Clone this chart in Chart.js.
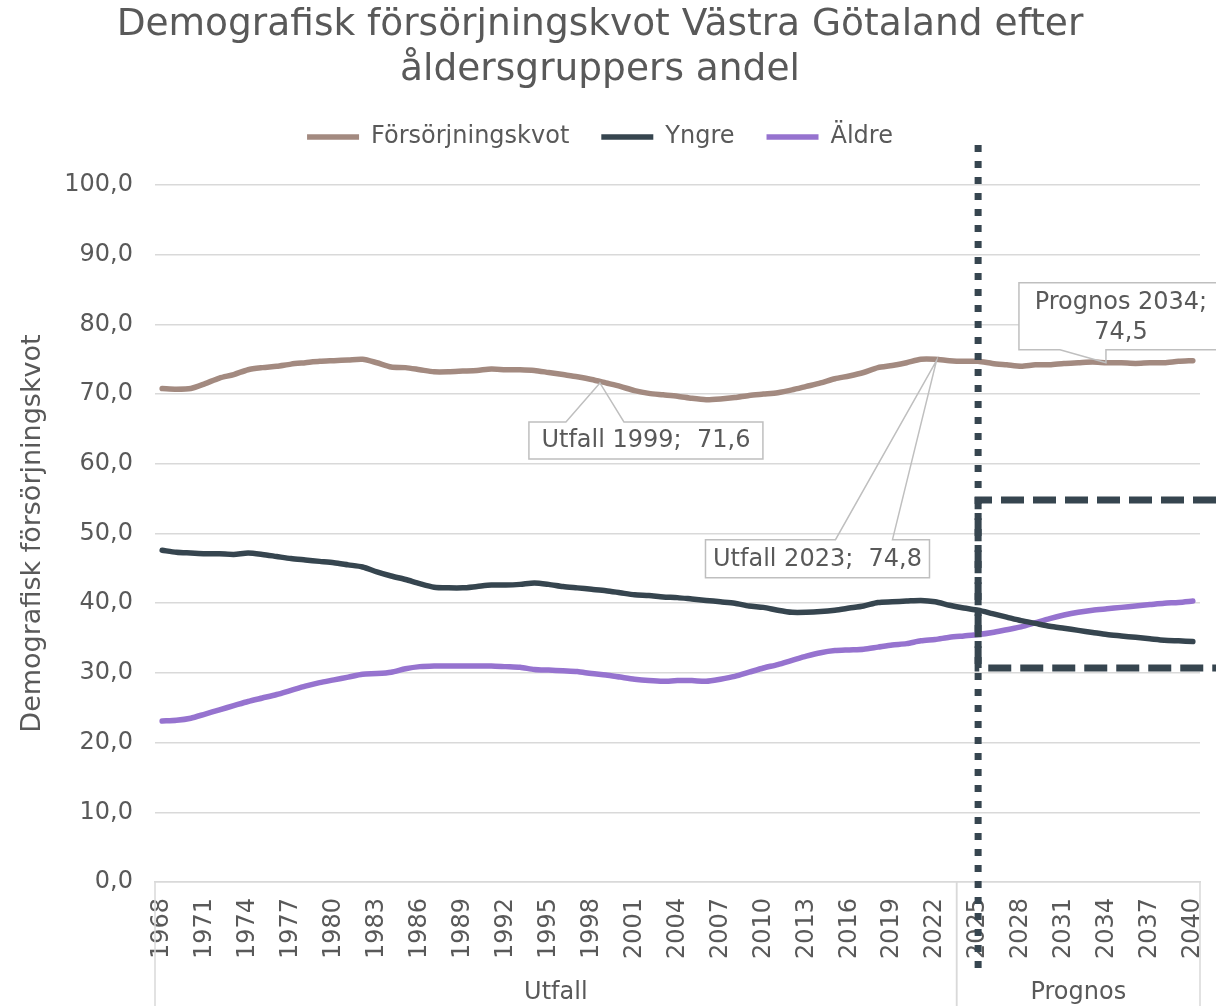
<!DOCTYPE html>
<html>
<head>
<meta charset="utf-8">
<script src="https://cdn.jsdelivr.net/npm/chart.js@4.4.1/dist/chart.umd.min.js"></script>
<style>
  html, body { margin: 0; padding: 0; background: #fff; }
  #wrap { width: 1216px; height: 1006px; }
</style>
</head>
<body>
<div id="wrap"><canvas id="chart"></canvas></div>
<script>
const years = [
  "1968","1969","1970","1971","1972","1973","1974","1975","1976","1977",
  "1978","1979","1980","1981","1982","1983","1984","1985","1986","1987",
  "1988","1989","1990","1991","1992","1993","1994","1995","1996","1997",
  "1998","1999","2000","2001","2002","2003","2004","2005","2006","2007",
  "2008","2009","2010","2011","2012","2013","2014","2015","2016","2017",
  "2018","2019","2020","2021","2022","2023","2024","2025","2026","2027",
  "2028","2029","2030","2031","2032","2033","2034","2035","2036","2037",
  "2038","2039","2040"
];

const forsorjningskvot = [
  70.8, 70.7, 70.8, 71.5, 72.3, 72.8, 73.5, 73.8, 74.0, 74.3,
  74.5, 74.7, 74.8, 74.9, 75.0, 74.5, 73.9, 73.8, 73.5, 73.2,
  73.2, 73.3, 73.4, 73.6, 73.5, 73.5, 73.4, 73.1, 72.8, 72.5,
  72.1, 71.6, 71.1, 70.5, 70.1, 69.9, 69.7, 69.4, 69.2, 69.3,
  69.5, 69.8, 70.0, 70.2, 70.6, 71.1, 71.6, 72.2, 72.6, 73.1,
  73.8, 74.1, 74.5, 75.0, 75.0, 74.8, 74.7, 74.7, 74.4, 74.2,
  74.0, 74.2, 74.2, 74.4, 74.5, 74.6, 74.5, 74.5, 74.4, 74.5,
  74.5, 74.7, 74.8
];

const yngre = [
  47.6, 47.3, 47.2, 47.1, 47.1, 47.0, 47.2, 47.0, 46.7, 46.4,
  46.2, 46.0, 45.8, 45.5, 45.2, 44.5, 43.9, 43.4, 42.8, 42.3,
  42.2, 42.2, 42.4, 42.6, 42.6, 42.7, 42.9, 42.7, 42.4, 42.2,
  42.0, 41.8, 41.5, 41.2, 41.1, 40.9, 40.8, 40.6, 40.4, 40.2,
  40.0, 39.6, 39.4, 39.0, 38.7, 38.7, 38.8, 39.0, 39.3, 39.6,
  40.1, 40.2, 40.3, 40.4, 40.2, 39.7, 39.3, 39.0, 38.5, 38.0,
  37.5, 37.1, 36.7, 36.4, 36.1, 35.8, 35.5, 35.3, 35.1, 34.9,
  34.7, 34.6, 34.5
];

const aldre = [
  23.1, 23.2, 23.5, 24.1, 24.7, 25.3, 25.9, 26.4, 26.9, 27.5,
  28.1, 28.6, 29.0, 29.4, 29.8, 29.9, 30.1, 30.6, 30.9, 31.0,
  31.0, 31.0, 31.0, 31.0, 30.9, 30.8, 30.5, 30.4, 30.3, 30.2,
  29.9, 29.7, 29.4, 29.1, 28.9, 28.8, 28.9, 28.9, 28.8, 29.1,
  29.5, 30.1, 30.7, 31.2, 31.8, 32.4, 32.9, 33.2, 33.3, 33.4,
  33.7, 34.0, 34.2, 34.6, 34.8, 35.1, 35.3, 35.5, 35.8, 36.2,
  36.6, 37.2, 37.8, 38.3, 38.7, 39.0, 39.2, 39.4, 39.6, 39.8,
  40.0, 40.1, 40.3
];

const yTicks = [0, 10, 20, 30, 40, 50, 60, 70, 80, 90, 100];

// grupper på x-axeln
const groups = [
  { name: "Utfall", from: "1968", to: "2023" },
  { name: "Prognos", from: "2024", to: "2040" }
];

// dataetiketter på försörjningskvoten
const labelYears = ["1999", "2023", "2034"];
const labelTexts = [["Utfall 1999;  71,6"], ["Utfall 2023;  74,8"], ["Prognos 2034;", "74,5"]];

// markeringar i prognosdelen
const markerYear = "2025";
const markerBand = [54.8, 30.7];

const FONT = '"DejaVu Sans", Verdana, sans-serif';
const TEXT = "#595959";
const DARK = "#36454f";

Chart.defaults.font.family = FONT;
Chart.defaults.color = TEXT;

const fmt = (v) => v.toFixed(1).replace(".", ",");

// extra luft under legenden
const legendGap = {
  id: "legendGap",
  beforeInit(chart) {
    const fit = chart.legend.fit;
    chart.legend.fit = function () {
      fit.call(this);
      this.height += 26;
    };
  }
};

function callout(ctx, box, tip, side, b1, b2) {
  const { l, t, w, h } = box;
  ctx.fillStyle = "#fff";
  ctx.fillRect(l, t, w, h);
  ctx.beginPath();
  if (side === "top") {
    ctx.moveTo(l, t);
    ctx.lineTo(b1, t);
    ctx.lineTo(tip.x, tip.y);
    ctx.lineTo(b2, t);
    ctx.lineTo(l + w, t);
    ctx.lineTo(l + w, t + h);
    ctx.lineTo(l, t + h);
  } else {
    ctx.moveTo(l, t);
    ctx.lineTo(l + w, t);
    ctx.lineTo(l + w, t + h);
    ctx.lineTo(b2, t + h);
    ctx.lineTo(tip.x, tip.y);
    ctx.lineTo(b1, t + h);
    ctx.lineTo(l, t + h);
  }
  ctx.closePath();
  ctx.strokeStyle = "#bfbfbf";
  ctx.lineWidth = 1.5;
  ctx.stroke();
}

const overlay = {
  id: "overlay",
  afterDraw(chart) {
    const { ctx, chartArea: a, scales: { x, y } } = chart;
    const step = x.getPixelForValue(1) - x.getPixelForValue(0);
    ctx.save();

    // grupper under årtalen
    ctx.strokeStyle = "#d9d9d9";
    ctx.lineWidth = 1.5;
    ctx.font = "24px " + FONT;
    ctx.fillStyle = TEXT;
    ctx.textAlign = "center";
    ctx.textBaseline = "middle";
    groups.forEach((g) => {
      const x0 = x.getPixelForValue(years.indexOf(g.from)) - step / 2;
      const x1 = x.getPixelForValue(years.indexOf(g.to)) + step / 2;
      [x0, x1].forEach((px) => {
        ctx.beginPath();
        ctx.moveTo(px, a.bottom);
        ctx.lineTo(px, chart.height);
        ctx.stroke();
      });
      ctx.fillText(g.name, (x0 + x1) / 2, 993);
    });

    // dataetiketter
    const anchors = labelYears.map((yr) => {
      const i = years.indexOf(yr);
      return { x: x.getPixelForValue(i), y: y.getPixelForValue(forsorjningskvot[i]) };
    });
    const p0 = anchors[0];
    callout(ctx, { l: p0.x - 77, t: p0.y + 39, w: 234, h: 37 }, { x: p0.x - 6, y: p0.y }, "top", p0.x - 40, p0.x + 18);
    const p1 = anchors[1];
    callout(ctx, { l: p1.x - 244, t: p1.y + 179, w: 224, h: 38 }, { x: p1.x - 13, y: p1.y }, "top", p1.x - 114, p1.x - 57);
    const p2 = anchors[2];
    callout(ctx, { l: p2.x - 88, t: p2.y - 80, w: 204, h: 67 }, { x: p2.x - 1, y: p2.y }, "bottom", p2.x - 47, p2.x - 1);

    ctx.fillStyle = TEXT;
    ctx.font = "24px " + FONT;
    ctx.textAlign = "center";
    ctx.fillText(labelTexts[0][0], p0.x + 40, p0.y + 58);
    ctx.fillText(labelTexts[1][0], p1.x - 132, p1.y + 199);
    ctx.fillText(labelTexts[2][0], p2.x + 14, p2.y - 60);
    ctx.fillText(labelTexts[2][1], p2.x + 14, p2.y - 30);

    // prognosmarkering: prickad lodlinje och streckad ram
    const mx = x.getPixelForValue(years.indexOf(markerYear));
    const yTop = y.getPixelForValue(markerBand[0]);
    const yBot = y.getPixelForValue(markerBand[1]);
    ctx.strokeStyle = DARK;
    ctx.lineWidth = 7;
    ctx.lineCap = "butt";
    ctx.setLineDash([23, 9]);
    ctx.beginPath();
    ctx.moveTo(chart.width, yTop);
    ctx.lineTo(mx, yTop);
    ctx.lineTo(mx, yBot);
    ctx.lineTo(chart.width, yBot);
    ctx.stroke();
    ctx.setLineDash([7, 9]);
    ctx.beginPath();
    ctx.moveTo(mx, 145);
    ctx.lineTo(mx, 970);
    ctx.stroke();
    ctx.restore();
  }
};

new Chart(document.getElementById("chart"), {
  type: "line",
  data: {
    labels: years,
    datasets: [
      { label: "Försörjningskvot", data: forsorjningskvot, borderColor: "#a38a80", backgroundColor: "#a38a80", borderWidth: 5.5 },
      { label: "Yngre", data: yngre, borderColor: DARK, backgroundColor: DARK, borderWidth: 5.5 },
      { label: "Äldre", data: aldre, borderColor: "#9673cf", backgroundColor: "#9673cf", borderWidth: 5.5 }
    ]
  },
  options: {
    responsive: true,
    maintainAspectRatio: false,
    animation: false,
    layout: { padding: { top: 0, right: 16, bottom: 34, left: 0 } },
    elements: {
      line: { tension: 0.25, borderCapStyle: "round" },
      point: { radius: 0 }
    },
    plugins: {
      title: {
        display: true,
        text: ["Demografisk försörjningskvot Västra Götaland efter", "åldersgruppers andel"],
        font: { size: 37.5, weight: "normal" },
        color: TEXT,
        padding: { top: 3, bottom: 0 }
      },
      legend: {
        labels: {
          usePointStyle: true,
          pointStyle: "line",
          pointStyleWidth: 52,
          padding: 32,
          font: { size: 24 },
          color: TEXT
        }
      },
      tooltip: { enabled: false }
    },
    scales: {
      x: {
        offset: true,
        grid: { display: false, drawTicks: false },
        border: { color: "#d9d9d9", width: 1.5 },
        afterFit: (s) => { s.height = 90; s.paddingLeft = 0; s.paddingRight = 0; },
        ticks: {
          autoSkip: false,
          minRotation: 90,
          maxRotation: 90,
          padding: 16,
          font: { size: 24 },
          callback: (v, i) => (i % 3 === 0 ? years[i] : "")
        }
      },
      y: {
        min: 0,
        max: 100,
        afterBuildTicks: (s) => { s.ticks = yTicks.map((v) => ({ value: v })); },
        afterFit: (s) => { s.width = 155; s.paddingTop = 0; s.paddingBottom = 0; },
        grid: { color: "#d9d9d9", lineWidth: 1.5, drawTicks: false },
        border: { display: false },
        ticks: { padding: 22, font: { size: 24 }, callback: (v) => fmt(v) },
        title: {
          display: true,
          text: "Demografisk försörjningskvot",
          font: { size: 27 },
          padding: { top: 17, bottom: 15 }
        }
      }
    }
  },
  plugins: [legendGap, overlay]
});
</script>
</body>
</html>
